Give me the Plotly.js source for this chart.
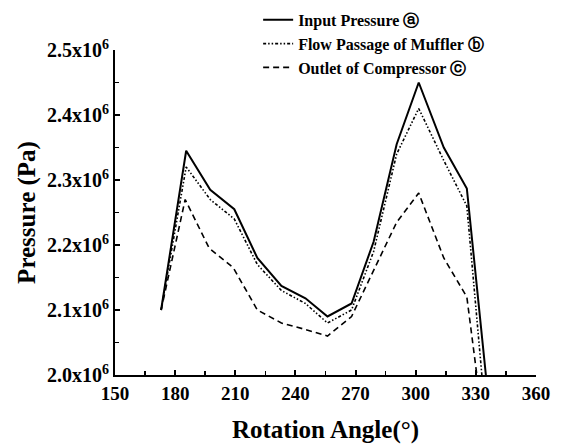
<!DOCTYPE html>
<html>
<head>
<meta charset="utf-8">
<script src="https://cdn.plot.ly/plotly-3.0.1.min.js"></script>
<style>html,body{margin:0;padding:0;background:#fff;}#chart{width:561px;height:444px;}</style>
</head>
<body>
<div id="chart"></div>
<script>
// Rotation angle (degrees)
const anglesInput  = [173, 185.5, 197.5, 209.5, 221, 233, 245, 256, 268, 279, 290.5, 301.5, 314, 325.5, 335];
const anglesMuffler = [173, 185.5, 197.5, 209.5, 221, 233, 245, 256, 268, 279, 290.5, 301.5, 314, 325.5, 333];
const anglesOutlet = [173, 185, 197, 209, 221, 233, 245, 256, 268, 279, 290.5, 301.5, 314, 325.5, 330.5];
// Pressure (Pa)
const inputPressure = [2.10e6, 2.345e6, 2.285e6, 2.255e6, 2.18e6, 2.137e6, 2.118e6, 2.09e6, 2.11e6, 2.205e6, 2.355e6, 2.45e6, 2.35e6, 2.287e6, 2.0e6];
const mufflerPressure = [2.10e6, 2.32e6, 2.27e6, 2.24e6, 2.17e6, 2.13e6, 2.11e6, 2.08e6, 2.10e6, 2.19e6, 2.34e6, 2.41e6, 2.33e6, 2.26e6, 2.0e6];
const outletPressure = [2.10e6, 2.27e6, 2.195e6, 2.165e6, 2.10e6, 2.08e6, 2.07e6, 2.06e6, 2.09e6, 2.16e6, 2.235e6, 2.28e6, 2.18e6, 2.12e6, 2.0e6];
const seriesNames = ['Input Pressure \u24D0', 'Flow Passage of Muffler \u24D1', 'Outlet of Compressor \u24D2'];
const xTickVals = [150, 180, 210, 240, 270, 300, 330, 360];
const xTickText = ['150', '180', '210', '240', '270', '300', '330', '360'];
const yTickVals = [2.0e6, 2.1e6, 2.2e6, 2.3e6, 2.4e6, 2.5e6];
const yTickText = ['2.0x10<sup>6</sup>', '2.1x10<sup>6</sup>', '2.2x10<sup>6</sup>', '2.3x10<sup>6</sup>', '2.4x10<sup>6</sup>', '2.5x10<sup>6</sup>'];

const font = 'Liberation Serif';
const bold = s => '<b>' + s + '</b>';
const traces = [
  {x: anglesInput, y: inputPressure, name: bold(seriesNames[0]), mode: 'lines', line: {color: '#000', width: 2}},
  {x: anglesMuffler, y: mufflerPressure, name: bold(seriesNames[1]), mode: 'lines', line: {color: '#000', width: 1.6, dash: '3px,2px,1.5px,2px,1.5px,2px'}},
  {x: anglesOutlet, y: outletPressure, name: bold(seriesNames[2]), mode: 'lines', line: {color: '#000', width: 1.6, dash: '6px,4px'}}
];
const layout = {
  width: 561, height: 444,
  margin: {l: 115, r: 25, t: 50, b: 69, autoexpand: false},
  paper_bgcolor: '#fff', plot_bgcolor: '#fff',
  font: {family: font, color: '#000', size: 14},
  showlegend: true,
  legend: {x: 0.34, y: 1.145, xanchor: 'left', yanchor: 'top', bgcolor: 'rgba(0,0,0,0)',
    font: {family: font, size: 16, color: '#000'}, tracegroupgap: 0, itemwidth: 30},
  xaxis: {
    range: [150, 360], tickmode: 'array', tickvals: xTickVals, ticktext: xTickText.map(bold), ticks: 'inside', ticklen: 5, tickwidth: 2, tickcolor: '#000',
    showline: true, linewidth: 2, linecolor: '#000', showgrid: false, zeroline: false,
    tickfont: {family: font, size: 19, color: '#000'},
    minor: {dtick: 15, ticks: 'inside', ticklen: 4, tickwidth: 1.5, tickcolor: '#000', showgrid: false},
    title: {text: bold('Rotation Angle(°)'), font: {family: font, size: 25, color: '#000'}, standoff: 18}
  },
  yaxis: {
    range: [2.0e6, 2.5e6], tickmode: 'array', tickvals: yTickVals, ticktext: yTickText.map(bold), ticks: 'inside', ticklen: 5, tickwidth: 2, tickcolor: '#000',
    showline: true, linewidth: 2, linecolor: '#000', showgrid: false, zeroline: false,
    tickfont: {family: font, size: 20, color: '#000'},
    minor: {dtick: 0.05e6, ticks: 'inside', ticklen: 4, tickwidth: 1.5, tickcolor: '#000', showgrid: false},
    title: {text: bold('Pressure (Pa)'), font: {family: font, size: 25, color: '#000'}, standoff: 4}
  }
};
Plotly.newPlot('chart', traces, layout, {displayModeBar: false, staticPlot: true});
</script>
</body>
</html>
